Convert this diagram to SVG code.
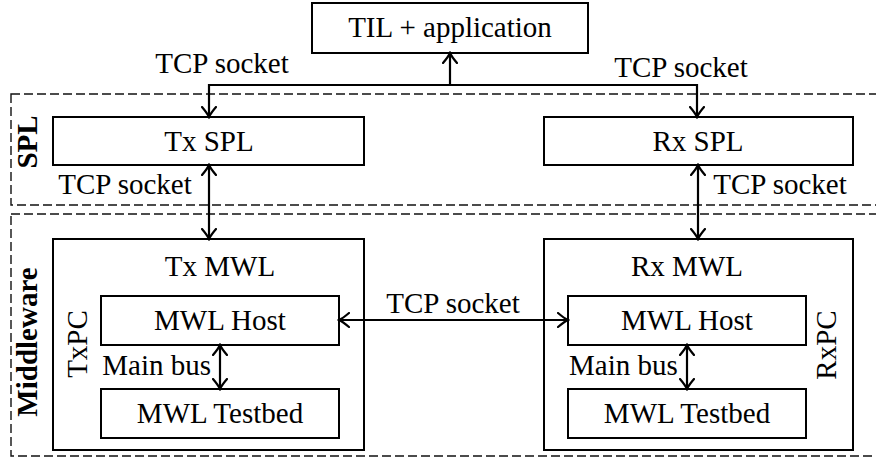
<svg xmlns="http://www.w3.org/2000/svg" width="876" height="461" viewBox="0 0 876 461">
  <style>
    .box { fill: #fff; stroke: #000; stroke-width: 2; }
    .zone { fill: none; stroke: #111; stroke-width: 1.4; stroke-dasharray: 9 4; }
    .t { font-family: "Liberation Serif", "DejaVu Serif", serif; font-size: 29px; fill: #000; }
    .c { text-anchor: middle; }
    .e { text-anchor: end; }
    .b { font-weight: bold; }
    .wire { fill: none; stroke: #000; stroke-width: 2.2; }
  </style>
  <defs>
    <marker id="arr" viewBox="-11 -8 13 16" markerWidth="13" markerHeight="16" refX="0" refY="0" orient="auto-start-reverse" markerUnits="userSpaceOnUse">
      <path d="M -10 -7 Q -3.5 -1.5 0 0 Q -3.5 1.5 -10 7" fill="none" stroke="#000" stroke-width="2.2" stroke-linecap="round"/>
    </marker>
  </defs>

  <!-- layer zones -->
  <g id="zone-spl">
    <rect class="zone" x="11" y="94" width="875" height="111"/>
    <text class="t b c" transform="translate(37,142) rotate(-90)">SPL</text>
  </g>
  <g id="zone-middleware">
    <rect class="zone" x="11" y="214" width="875" height="242"/>
    <text class="t b c" transform="translate(37,342) rotate(-90)">Middleware</text>
  </g>

  <!-- application -->
  <g id="til">
    <rect class="box" x="312" y="3" width="276" height="50"/>
    <text class="t c" x="450" y="37">TIL + application</text>
  </g>

  <!-- SPL boxes -->
  <g id="tx-spl">
    <rect class="box" x="53" y="117" width="311" height="48"/>
    <text class="t c" x="209" y="151">Tx SPL</text>
  </g>
  <g id="rx-spl">
    <rect class="box" x="544" y="117" width="309" height="48"/>
    <text class="t c" x="698" y="151">Rx SPL</text>
  </g>

  <!-- middleware PCs -->
  <g id="tx-mwl">
    <rect class="box" x="53" y="239" width="311" height="211"/>
    <text class="t c" x="220" y="276">Tx MWL</text>
    <text class="t c" transform="translate(87,344) rotate(-90)">TxPC</text>
  </g>
  <g id="tx-host">
    <rect class="box" x="101" y="296" width="238" height="49"/>
    <text class="t c" x="220" y="330">MWL Host</text>
  </g>
  <g id="tx-testbed">
    <rect class="box" x="101" y="389" width="238" height="49"/>
    <text class="t c" x="220" y="423">MWL Testbed</text>
  </g>

  <g id="rx-mwl">
    <rect class="box" x="544" y="239" width="309" height="211"/>
    <text class="t c" x="687" y="276">Rx MWL</text>
    <text class="t c" transform="translate(836,345) rotate(-90)">RxPC</text>
  </g>
  <g id="rx-host">
    <rect class="box" x="568" y="296" width="238" height="49"/>
    <text class="t c" x="687" y="330">MWL Host</text>
  </g>
  <g id="rx-testbed">
    <rect class="box" x="568" y="389" width="238" height="49"/>
    <text class="t c" x="687" y="423">MWL Testbed</text>
  </g>

  <!-- connectors -->
  <g id="connectors">
    <path class="wire" d="M 209 117 V 85 H 697 V 117" marker-start="url(#arr)" marker-end="url(#arr)"/>
    <path class="wire" d="M 450 85 V 53" marker-end="url(#arr)"/>
    <path class="wire" d="M 209 165 V 239" marker-start="url(#arr)" marker-end="url(#arr)"/>
    <path class="wire" d="M 698 165 V 239" marker-start="url(#arr)" marker-end="url(#arr)"/>
    <path class="wire" d="M 339 320 H 568" marker-start="url(#arr)" marker-end="url(#arr)"/>
    <path class="wire" d="M 220 345 V 389" stroke-width="1.6" marker-start="url(#arr)" marker-end="url(#arr)"/>
    <path class="wire" d="M 687 345 V 389" stroke-width="1.6" marker-start="url(#arr)" marker-end="url(#arr)"/>

    <text class="t c" x="222" y="73">TCP socket</text>
    <text class="t c" x="681" y="77">TCP socket</text>
    <text class="t c" x="125" y="194">TCP socket</text>
    <text class="t c" x="780" y="194">TCP socket</text>
    <text class="t c" x="453" y="313">TCP socket</text>
    <text class="t e" x="211" y="375">Main bus</text>
    <text class="t" x="569" y="375">Main bus</text>
  </g>
</svg>
